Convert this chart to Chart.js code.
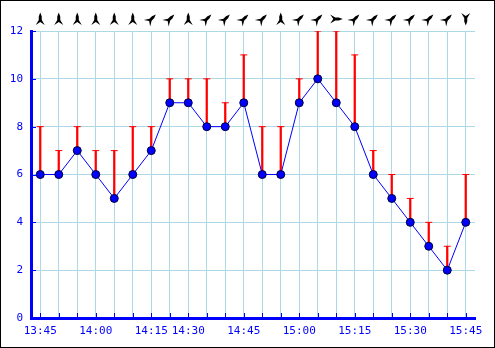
<!DOCTYPE html>
<html>
<head>
<meta charset="utf-8">
<script src="https://cdn.jsdelivr.net/npm/chart.js@4"></script>
<style>
  body { margin: 0; background: #fff; }
  canvas { display: block; }
</style>
</head>
<body>
<canvas id="windChart" width="495" height="348"></canvas>
<script>
// tick labels along the bottom (only the quarter hours are printed)
const timeLabels = ['13:45', '', '', '14:00', '', '', '14:15', '', '14:30', '', '', '14:45',
                    '', '', '15:00', '', '', '15:15', '', '', '15:30', '', '', '15:45'];
const speed = [6, 6, 7, 6, 5, 6, 7, 9, 9, 8, 8, 9, 6, 6, 9, 10, 9, 8, 6, 5, 4, 3, 2, 4];
const gust  = [8, 7, 8, 7, 7, 8, 8, 10, 10, 10, 9, 11, 8, 8, 10, 12, 12, 11, 7, 6, 5, 4, 3, 6];
// direction the arrow points to, degrees clockwise from up
const direction = [0, 0, 0, 0, 0, 0, 45, 45, 0, 45, 45, 45, 45, 0, 45, 45, 90, 45, 45, 45, 45, 45, 45, 180];
const yTicks = [0, 2, 4, 6, 8, 10, 12];

const blue = '#0000ff';
const gridBlue = '#add8e6';

const ctx = document.getElementById('windChart');

const framePlugin = {
  id: 'frame',
  beforeDraw(chart) {
    const c = chart.ctx;
    c.save();
    c.fillStyle = '#fff';
    c.fillRect(0, 0, chart.width, chart.height);
    c.restore();
  },
  afterDraw(chart) {
    const c = chart.ctx;
    const area = chart.chartArea;
    const xs = chart.scales.x;
    const ys = chart.scales.y;
    c.save();
    // inward tick marks
    c.strokeStyle = blue;
    c.lineWidth = 1;
    c.beginPath();
    for (let i = 0; i < xs.ticks.length; i++) {
      const x = Math.round(xs.getPixelForTick(i)) + 0.5;
      c.moveTo(x, area.bottom);
      c.lineTo(x, area.bottom - 5);
    }
    for (let i = 0; i < ys.ticks.length; i++) {
      const y = Math.round(ys.getPixelForTick(i)) + 0.5;
      c.moveTo(area.left, y);
      c.lineTo(area.left + 5, y);
    }
    c.stroke();

    // wind direction arrows
    c.fillStyle = '#000';
    direction.forEach((d, i) => {
      const x = xs.getPixelForValue(i);
      c.save();
      c.translate(x, 19);
      c.rotate(d * Math.PI / 180);
      c.beginPath();
      c.moveTo(0, -6.5);
      c.lineTo(1.5, -2.5);
      c.lineTo(1.5, 1);
      c.lineTo(4.5, 6);
      c.lineTo(0, 3);
      c.lineTo(-4.5, 6);
      c.lineTo(-1.5, 1);
      c.lineTo(-1.5, -2.5);
      c.closePath();
      c.fill();
      c.restore();
    });

    // outer frame
    c.strokeStyle = '#000';
    c.lineWidth = 1;
    c.strokeRect(0.5, 0.5, chart.width - 1, chart.height - 1);
    c.restore();
  }
};

new Chart(ctx, {
  data: {
    labels: timeLabels,
    datasets: [{
      type: 'line',
      label: 'Speed',
      data: speed,
      borderColor: blue,
      borderWidth: 1,
      pointRadius: 4,
      pointBackgroundColor: blue,
      pointBorderColor: '#000033',
      pointBorderWidth: 1,
      tension: 0,
      order: 0
    }, {
      type: 'line',
      label: 'Gust cap',
      data: gust,
      showLine: false,
      pointStyle: 'line',
      pointRadius: 3.5,
      pointBorderColor: '#ff0000',
      pointBorderWidth: 1,
      order: 1
    }, {
      type: 'bar',
      label: 'Gust',
      data: speed.map((s, i) => [s, gust[i]]),
      backgroundColor: '#ff0000',
      barThickness: 1.6,
      order: 2
    }]
  },
  options: {
    responsive: false,
    animation: false,
    layout: {
      padding: { top: 31, right: 20, left: 0, bottom: 0 }
    },
    plugins: {
      legend: { display: false },
      tooltip: { enabled: false }
    },
    scales: {
      x: {
        offset: true,
        grid: { color: gridBlue, offset: false, drawTicks: false },
        border: { color: blue, width: 3 },
        ticks: {
          autoSkip: false,
          maxRotation: 0,
          color: blue,
          padding: 7,
          font: { family: 'DejaVu Sans Mono', size: 11 }
        },
        afterFit(scale) { scale.height = 30; }
      },
      y: {
        min: yTicks[0],
        max: yTicks[yTicks.length - 1],
        grid: { color: gridBlue, drawTicks: false },
        border: { color: blue, width: 3 },
        ticks: {
          stepSize: 2,
          color: blue,
          padding: 8,
          font: { family: 'DejaVu Sans Mono', size: 11 }
        },
        afterFit(scale) { scale.width = 31; }
      }
    }
  },
  plugins: [framePlugin]
});
</script>
</body>
</html>
